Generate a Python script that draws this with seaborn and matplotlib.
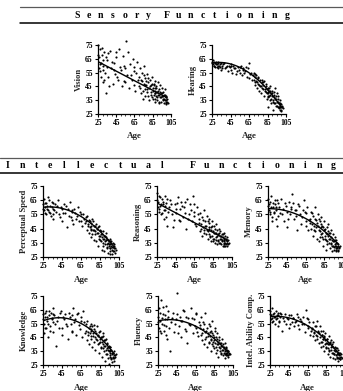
import numpy as np
import pandas as pd
import matplotlib
matplotlib.use("Agg")
import matplotlib.pyplot as plt
import seaborn as sns
from matplotlib.lines import Line2D
from matplotlib.ticker import MultipleLocator

# ---------------- data ----------------
age = ([25, 26, 26, 27, 28, 28, 29, 30, 31, 32, 33, 34, 35, 36, 38, 39, 41, 42, 44, 45,
        47, 48, 50, 51, 53, 54, 56, 57, 59, 60, 62, 63, 65, 66, 68] +
       [70, 71, 71, 72, 73, 73, 74, 75, 75, 76, 77, 77, 78, 79, 79, 80, 81, 81, 82, 83,
        83, 84, 85, 85, 86, 87, 87, 88, 88, 89, 89, 90, 90, 91, 91, 92, 92, 93, 93, 94,
        94, 95, 95, 96, 96, 97, 97, 98, 98, 99, 99, 100, 100, 101, 102] +
       [25, 27, 27, 29, 30, 31, 32, 34, 35, 36, 37, 40, 43, 45, 46, 49, 52, 55, 55, 58,
        61, 64, 65, 67, 69] +
       [70, 72, 74, 75, 76, 78, 79, 80, 80, 82, 83, 84, 84, 85, 86, 86, 87, 88, 88, 89,
        90, 91, 92, 92, 93, 94, 95, 96, 96, 97, 98, 99, 100, 100, 101])

vision = ([75, 58, 66, 72, 52, 62, 68, 48, 60, 70, 55, 40, 64, 52, 71, 58, 47, 62, 54, 70,
           50, 72, 57, 45, 60, 49, 78, 53, 44, 61, 50, 65, 56, 42, 63] +
          [52, 44, 58, 40, 49, 55, 36, 47, 60, 43, 51, 38, 46, 54, 41, 48, 35, 44, 50, 39,
           46, 52, 42, 36, 47, 40, 49, 34, 44, 38, 45, 41, 35, 48, 39, 43, 33, 37, 46, 40,
           34, 44, 38, 36, 41, 33, 39, 35, 43, 37, 32, 38, 34, 36, 33] +
          [68, 61, 56, 73, 64, 57, 50, 66, 59, 69, 45, 63, 57, 66, 52, 59, 67, 48, 58, 70,
           53, 59, 46, 55, 50] +
          [45, 50, 42, 53, 46, 49, 43, 38, 51, 45, 41, 47, 37, 44, 39, 46, 42, 36, 40, 44,
           37, 42, 39, 34, 41, 37, 40, 35, 38, 36, 39, 35, 33, 37, 34])
hearing = ([63, 61, 64, 60, 62, 59, 63, 61, 58, 62, 60, 61, 57, 60, 62, 58, 60, 56, 59, 61,
            55, 60, 58, 54, 59, 57, 60, 53, 58, 55, 59, 52, 62, 54, 50] +
           [55, 48, 52, 46, 53, 49, 44, 51, 47, 42, 50, 45, 40, 48, 44, 46, 38, 49, 43, 41,
            47, 36, 44, 40, 30, 42, 38, 45, 35, 40, 33, 38, 42, 35, 28, 39, 33, 44, 36, 31,
            38, 34, 40, 30, 36, 33, 29, 35, 31, 28, 33, 30, 27, 31, 29] +
           [62, 60, 63, 61, 59, 63, 60, 59, 62, 58, 61, 59, 60, 57, 60, 58, 56, 59, 55, 57,
            56, 58, 51, 55, 53] +
           [50, 54, 48, 52, 46, 45, 50, 43, 48, 42, 45, 40, 43, 38, 41, 37, 44, 39, 42, 36,
            40, 34, 37, 41, 33, 36, 31, 34, 38, 30, 32, 30, 32, 28, 30])
perceptual = ([62, 58, 66, 60, 55, 63, 59, 67, 57, 61, 54, 64, 59, 52, 62, 57, 65, 55, 60, 50,
               62, 56, 46, 59, 64, 53, 58, 48, 56, 52, 60, 50, 55, 47, 52] +
              [50, 44, 54, 47, 42, 51, 46, 39, 49, 45, 52, 41, 44, 37, 47, 43, 48, 36, 42, 46,
               33, 40, 44, 37, 41, 30, 39, 43, 35, 38, 29, 40, 34, 37, 42, 32, 38, 35, 28, 36,
               33, 31, 38, 34, 29, 33, 36, 30, 27, 32, 35, 29, 33, 31, 30] +
              [59, 63, 56, 61, 58, 65, 56, 60, 55, 63, 58, 61, 53, 59, 56, 61, 54, 57, 51, 59,
               54, 57, 50, 55, 49] +
              [53, 48, 50, 44, 47, 50, 44, 41, 47, 45, 42, 47, 38, 40, 43, 36, 41, 38, 33, 40,
               36, 39, 34, 31, 37, 34, 36, 31, 27, 35, 32, 29, 34, 31, 28])
reasoning = ([70, 60, 64, 57, 67, 61, 55, 66, 62, 52, 68, 58, 63, 47, 60, 65, 55, 46, 62, 56,
              67, 51, 59, 64, 53, 60, 45, 66, 55, 62, 50, 68, 57, 48, 60] +
             [52, 43, 56, 48, 40, 53, 46, 58, 44, 50, 41, 47, 54, 43, 38, 49, 45, 52, 40, 46,
              36, 50, 43, 38, 47, 35, 42, 48, 39, 44, 34, 41, 37, 45, 35, 40, 43, 34, 38, 41,
              36, 33, 39, 42, 35, 37, 33, 40, 35, 34, 38, 36, 33, 37, 35] +
             [65, 59, 68, 62, 56, 64, 58, 61, 53, 66, 57, 62, 51, 59, 63, 50, 61, 56, 64, 52,
              58, 54, 62, 47, 55] +
             [49, 45, 51, 42, 47, 44, 50, 41, 46, 39, 44, 40, 47, 36, 42, 38, 45, 37, 42, 40,
              36, 42, 38, 35, 40, 37, 41, 34, 38, 36, 33, 37, 39, 35, 34])
memory = ([66, 58, 62, 55, 68, 60, 50, 63, 57, 65, 52, 60, 47, 63, 56, 66, 59, 50, 61, 46,
           64, 55, 60, 69, 52, 58, 44, 62, 55, 48, 58, 65, 50, 56, 44] +
          [52, 45, 57, 48, 40, 54, 47, 60, 43, 51, 38, 49, 55, 44, 36, 50, 46, 41, 53, 39,
           47, 33, 44, 50, 38, 42, 30, 46, 36, 40, 48, 35, 42, 31, 38, 44, 34, 37, 29, 41,
           33, 36, 30, 39, 34, 31, 37, 33, 29, 35, 32, 30, 34, 31, 33] +
          [61, 57, 64, 53, 60, 56, 62, 58, 65, 54, 60, 55, 63, 57, 52, 59, 63, 54, 58, 61,
           53, 57, 47, 60, 51] +
          [49, 56, 44, 52, 46, 47, 52, 43, 39, 48, 42, 46, 38, 44, 40, 45, 37, 41, 34, 43,
           38, 42, 35, 39, 33, 36, 32, 37, 33, 30, 35, 31, 33, 29, 32])
knowledge = ([62, 55, 48, 60, 52, 64, 57, 45, 61, 53, 63, 58, 49, 62, 55, 39, 60, 52, 64, 47,
              58, 62, 53, 44, 60, 55, 50, 66, 58, 47, 63, 54, 60, 45, 56] +
             [50, 43, 57, 47, 52, 40, 48, 55, 44, 50, 38, 53, 46, 42, 51, 36, 48, 44, 53, 40,
              46, 34, 50, 42, 37, 45, 31, 40, 48, 35, 43, 28, 39, 44, 33, 37, 41, 30, 36, 39,
              26, 34, 38, 31, 35, 29, 36, 33, 27, 34, 30, 32, 28, 31, 33] +
             [58, 63, 52, 60, 55, 64, 50, 59, 66, 56, 61, 57, 63, 52, 60, 55, 63, 49, 61, 56,
              62, 51, 57, 64, 48] +
             [55, 49, 53, 46, 51, 48, 54, 45, 50, 43, 47, 41, 49, 44, 38, 45, 42, 37, 46, 39,
              43, 36, 40, 33, 38, 35, 38, 32, 36, 30, 34, 31, 35, 30, 32])
fluency = ([60, 52, 66, 57, 48, 72, 55, 62, 50, 58, 68, 53, 44, 60, 35, 56, 63, 49, 58, 77,
            53, 60, 45, 57, 64, 51, 41, 59, 54, 66, 48, 58, 52, 62, 46] +
           [54, 47, 60, 43, 51, 56, 40, 49, 63, 45, 52, 38, 48, 55, 42, 46, 35, 50, 44, 57,
            40, 47, 37, 43, 52, 34, 45, 40, 48, 31, 42, 38, 45, 35, 41, 33, 39, 44, 36, 32,
            40, 37, 34, 41, 30, 36, 33, 38, 34, 32, 36, 35, 31, 34, 33] +
           [56, 63, 50, 59, 67, 54, 61, 47, 58, 64, 52, 59, 55, 62, 48, 57, 65, 50, 60, 55,
            59, 53, 63, 49, 56] +
           [52, 48, 55, 44, 50, 46, 41, 53, 49, 43, 48, 42, 39, 45, 50, 41, 38, 44, 36, 40,
            43, 37, 41, 34, 39, 36, 38, 33, 35, 32, 37, 34, 32, 35, 33])
intel = ([64, 58, 61, 66, 57, 62, 60, 55, 64, 59, 53, 61, 57, 63, 50, 59, 62, 55, 58, 52,
          61, 56, 59, 53, 57, 62, 51, 58, 55, 60, 49, 65, 53, 58, 47] +
         [52, 46, 56, 49, 43, 53, 47, 57, 44, 50, 41, 48, 53, 42, 38, 47, 44, 50, 39, 45,
          35, 48, 41, 37, 44, 33, 40, 46, 36, 41, 31, 38, 43, 34, 39, 30, 42, 36, 33, 38,
          29, 35, 32, 37, 30, 34, 28, 33, 36, 30, 34, 31, 29, 33, 30] +
         [62, 59, 56, 63, 60, 58, 61, 63, 56, 60, 62, 57, 59, 61, 55, 59, 56, 60, 54, 57,
          55, 59, 52, 56, 50] +
         [51, 48, 53, 46, 49, 45, 50, 42, 47, 44, 46, 40, 43, 38, 41, 44, 37, 40, 35, 42,
          36, 40, 34, 38, 33, 35, 37, 31, 33, 34, 30, 32, 34, 29, 31])

# fitted curve values at ages 25, 62.5, 100
curve_ages = [25, 62.5, 100]
curve_vision = [63, 50, 37]
curve_hearing = [62, 56, 30]
curve_perceptual = [60, 54.5, 32]
curve_reasoning = [63, 50, 37]
curve_memory = [59, 53, 34]
curve_knowledge = [57, 56, 33]
curve_fluency = [57, 54, 34]
curve_intel = [60, 54.5, 32]

x_ticks = [25, 45, 65, 85, 105]
y_ticks = [25, 35, 45, 55, 65, 75]

header1 = "Sensory Functioning"
header2 = "Intellectual Functioning"

# ---------------- style ----------------
sns.set_theme(style="ticks")
plt.rcParams['font.family'] = ['Liberation Serif', 'DejaVu Serif']
plt.rcParams['axes.linewidth'] = 0.9

W, H = 343, 391
fig = plt.figure(figsize=(W / 100, H / 100), dpi=100)

def rect(left, bottom_px, width, height):
    return [left / W, 1 - bottom_px / H, width / W, height / H]

panels = [
    ("Vision", vision, curve_vision, rect(98, 114, 73, 73.1)),
    ("Hearing", hearing, curve_hearing, rect(212, 114, 74, 73.1)),
    ("Perceptual Speed", perceptual, curve_perceptual, rect(43, 257, 76, 75.3)),
    ("Reasoning", reasoning, curve_reasoning, rect(157, 257, 75, 75.3)),
    ("Memory", memory, curve_memory, rect(268, 257, 75, 75.3)),
    ("Knowledge", knowledge, curve_knowledge, rect(43, 365, 76, 73.1)),
    ("Fluency", fluency, curve_fluency, rect(158, 365, 75, 73.1)),
    ("Intel. Ability Comp.", intel, curve_intel, rect(270, 365, 75, 73.1)),
]

for label, vals, curve, r in panels:
    assert len(vals) == len(age)
    ax = fig.add_axes(r)
    df = pd.DataFrame({"Age": age, "val": vals})
    sns.scatterplot(data=df, x="Age", y="val", ax=ax, s=2.4, color="black",
                    linewidth=0, clip_on=False, legend=False)
    coef = np.polyfit(curve_ages, curve, 2)
    xs = np.linspace(25, 100, 120)
    cdf = pd.DataFrame({"Age": xs, "val": np.polyval(coef, xs)})
    sns.lineplot(data=cdf, x="Age", y="val", ax=ax, color="black", linewidth=1.0)
    ax.set_xlim(25, 105)
    ax.set_ylim(25, 78)
    ax.set_xticks(x_ticks)
    ax.set_yticks(y_ticks)
    ax.xaxis.set_minor_locator(MultipleLocator(5))
    for s in ["top", "right"]:
        ax.spines[s].set_visible(False)
    ax.spines["left"].set_bounds(25, 75)
    ax.spines["left"].set_color("black")
    ax.spines["bottom"].set_color("black")
    ax.tick_params(axis="both", which="major", direction="out", length=2.5,
                   width=0.8, labelsize=5.5, pad=1.2, colors="black")
    ax.tick_params(axis="x", which="minor", direction="out", length=1.5, width=0.6)
    for t in ax.get_xticklabels() + ax.get_yticklabels():
        t.set_fontweight("bold")
    ax.set_xlabel("Age", fontsize=6.5, fontweight="bold")
    ax.set_ylabel(label, fontsize=6.2, fontweight="bold")
    wpx = r[2] * W
    hpx = r[3] * H
    ax.xaxis.set_label_coords(0.5, -18.5 / hpx)
    ax.yaxis.set_label_coords(-15 / wpx, 25 / 53)
    ax.patch.set_alpha(0)

# ---------------- headers ----------------
def header(text, x0, pitch, gap, ycen, line_top, line_bot, xl0):
    x = x0
    for word_i, word in enumerate(text.split(" ")):
        if word_i > 0:
            x += gap - pitch
        for ch in word:
            fig.text(x / W, 1 - ycen / H, ch, ha="center", va="center",
                     fontsize=7, fontweight="bold", color="black")
            x += pitch
    fig.add_artist(Line2D([xl0 / W, 1], [1 - line_top / H] * 2, color="0.35",
                          linewidth=0.9, transform=fig.transFigure))
    fig.add_artist(Line2D([xl0 / W, 1], [1 - line_bot / H] * 2, color="black",
                          linewidth=1.1, transform=fig.transFigure))

header(header1, 76.7, 12.0, 18.0, 15, 6.5, 23, 20)
header(header2, 8, 14.0, 31.0, 165.5, 157.5, 173.5, 0)

fig.savefig("out.png", dpi=100)
